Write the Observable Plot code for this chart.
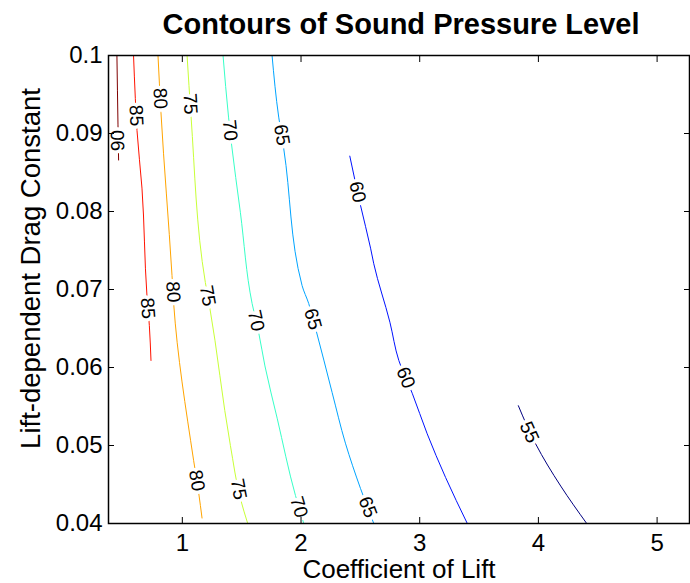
<!DOCTYPE html>
<html>
<head>
<meta charset="utf-8">
<script src="https://cdn.jsdelivr.net/npm/d3@7"></script>
<script src="https://cdn.jsdelivr.net/npm/@observablehq/plot@0.6"></script>
<style>
  body { margin: 0; background: #fff; }
  #chart { width: 690px; height: 583px; }
</style>
</head>
<body>
<div id="chart"></div>
<script>
// ---- text ----
const title = "Contours of Sound Pressure Level";
const xLabel = "Coefficient of Lift";
const yLabel = "Lift-dependent Drag Constant";

// ---- axes ----
const xDomain = [0.378, 5.273];
const yDomain = [0.04, 0.1];
const xTicks = [1, 2, 3, 4, 5];
const yTicks = [0.04, 0.05, 0.06, 0.07, 0.08, 0.09, 0.1];

// ---- contour levels and colours (jet) ----
const levels = [90, 85, 80, 75, 70, 65, 60, 55];
const levelColors = ["#800000", "#ff1200", "#ffa400", "#c8ff37", "#37ffc8", "#00a4ff", "#0012ff", "#000080"];

// ---- contour lines: coefficient of lift (cl) vs drag constant (k) ----
const cl90 = [0.449, 0.458, 0.463];
const k90  = [0.1, 0.0911, 0.0866];
const cl85 = [0.589, 0.604, 0.618, 0.660, 0.702, 0.722, 0.736];
const k85  = [0.1, 0.0945, 0.0904, 0.0830, 0.0692, 0.0654, 0.0609];
const cl80 = [0.795, 0.820, 0.913, 0.927, 1.095, 1.138, 1.166];
const k80  = [0.1, 0.0927, 0.0718, 0.0682, 0.0481, 0.0439, 0.0407];
const cl75 = [1.040, 1.073, 1.194, 1.228, 1.405, 1.489, 1.551];
const k75  = [0.1, 0.0923, 0.0709, 0.0680, 0.0500, 0.0432, 0.0400];
const cl70 = [1.343, 1.390, 1.413, 1.489, 1.588, 1.643, 1.696, 1.799, 1.953, 2.023];
const k70  = [0.1, 0.0920, 0.0888, 0.0799, 0.0682, 0.0645, 0.0602, 0.0535, 0.0436, 0.0400];
const cl65 = [1.756, 1.812, 1.854, 2.009, 2.065, 2.121, 2.262, 2.374, 2.501, 2.613];
const k65  = [0.1, 0.0921, 0.0881, 0.0705, 0.0682, 0.0651, 0.0568, 0.0503, 0.0445, 0.0400];
const cl60 = [2.411, 2.501, 2.586, 2.613, 2.749, 2.824, 2.937, 3.063, 3.218, 3.401];
const k60  = [0.0871, 0.0808, 0.0753, 0.0733, 0.0658, 0.0609, 0.0567, 0.0515, 0.0459, 0.0400];
const cl55 = [3.831, 3.977, 4.188, 4.407];
const k55  = [0.0551, 0.0502, 0.0448, 0.0400];

// ---- inline contour labels ----
const labelLevel = [90, 85, 85, 80, 80, 80, 75, 75, 75, 70, 70, 70, 65, 65, 65, 60, 60, 55];
const labelCL    = [0.457, 0.611, 0.707, 0.813, 0.922, 1.121, 1.066, 1.213, 1.474, 1.401, 1.620, 1.982, 1.837, 2.099, 2.561, 2.476, 2.881, 3.923];
const labelK     = [0.0891, 0.0923, 0.0676, 0.0945, 0.0697, 0.0455, 0.0938, 0.0692, 0.0444, 0.0904, 0.0660, 0.0421, 0.0898, 0.0662, 0.0421, 0.0825, 0.0587, 0.0517];

// ---- layout / style ----
const W = 690, H = 583;
const M = { left: 108, right: 1, top: 55, bottom: 60 };
const FONT = "'Liberation Sans', Arial, Helvetica, sans-serif";
const flipLevels = [90]; // labels drawn reading upward

const contours = [
  { level: 90, cl: cl90, k: k90 },
  { level: 85, cl: cl85, k: k85 },
  { level: 80, cl: cl80, k: k80 },
  { level: 75, cl: cl75, k: k75 },
  { level: 70, cl: cl70, k: k70 },
  { level: 65, cl: cl65, k: k65 },
  { level: 60, cl: cl60, k: k60 },
  { level: 55, cl: cl55, k: k55 }
];
const lineRows = contours.flatMap(c => c.cl.map((x, i) => ({ level: c.level, cl: x, k: c.k[i] })));
const labelRows = labelLevel.map((lv, i) => ({ level: lv, cl: labelCL[i], k: labelK[i], text: String(lv) }));

const xs = Plot.scale({ x: { domain: xDomain, range: [M.left, W - M.right] } });
const ys = Plot.scale({ y: { domain: yDomain, range: [H - M.bottom, M.top] } });

function angleFor(r) {
  const c = contours.find(c => c.level === r.level);
  let i0 = 0;
  for (let i = 0; i < c.k.length - 1; i++) {
    if ((c.k[i] - r.k) * (c.k[i + 1] - r.k) <= 0) { i0 = i; break; }
  }
  const x0 = xs.apply(c.cl[i0]), y0 = ys.apply(c.k[i0]);
  const x1 = xs.apply(c.cl[i0 + 1]), y1 = ys.apply(c.k[i0 + 1]);
  let a = Math.atan2(y1 - y0, x1 - x0) * 180 / Math.PI;
  if (a > 90) a -= 180;
  if (a < -90) a += 180;
  if (flipLevels.includes(r.level)) a -= 180;
  return a;
}
labelRows.forEach(r => { r.angle = angleFor(r); });

const blank = () => "";
const plot = Plot.plot({
  width: W,
  height: H,
  marginLeft: M.left,
  marginRight: M.right,
  marginTop: M.top,
  marginBottom: M.bottom,
  style: { fontFamily: FONT, background: "#fff", color: "#000" },
  x: { domain: xDomain, axis: null },
  y: { domain: yDomain, axis: null },
  color: { type: "ordinal", domain: levels, range: levelColors },
  marks: [
    Plot.line(lineRows, { x: "cl", y: "k", z: "level", stroke: "level", strokeWidth: 1, curve: "monotone-y" }),
    Plot.text(labelRows, {
      x: "cl", y: "k", text: "text", rotate: "angle",
      fontSize: 19, fill: "#000", stroke: "#fff", strokeWidth: 7,
      textAnchor: "middle", lineAnchor: "middle"
    }),
    Plot.frame({ stroke: "#000", strokeWidth: 1.5 }),
    Plot.axisX(xTicks, { anchor: "bottom", tickSize: -6, tickFormat: blank, label: null, stroke: "#000" }),
    Plot.axisX(xTicks, { anchor: "top", tickSize: -6, tickFormat: blank, label: null, stroke: "#000" }),
    Plot.axisY(yTicks, { anchor: "left", tickSize: -6, tickFormat: blank, label: null, stroke: "#000" }),
    Plot.axisY(yTicks, { anchor: "right", tickSize: -6, tickFormat: blank, label: null, stroke: "#000" }),
    Plot.axisX(xTicks, { anchor: "bottom", tickSize: 0, tickPadding: 10, fontSize: 24, fill: "#000", label: null, tickFormat: d => String(d) }),
    Plot.axisY(yTicks, { anchor: "left", tickSize: 0, tickPadding: 6, fontSize: 24, fill: "#000", label: null, tickFormat: d => String(d) }),
    Plot.text([xLabel], { frameAnchor: "bottom", dy: 46, fontSize: 26, fill: "#000", textAnchor: "middle", lineAnchor: "middle" }),
    Plot.text([yLabel], { frameAnchor: "left", rotate: -90, dx: -77, dy: -21, fontSize: 27.5, fill: "#000", textAnchor: "middle", lineAnchor: "middle" }),
    Plot.text([title], { frameAnchor: "top", dy: -31, dx: 2, fontSize: 29, fontWeight: "bold", fill: "#000", textAnchor: "middle", lineAnchor: "middle" })
  ]
});
document.getElementById("chart").appendChild(plot);
</script>
</body>
</html>
